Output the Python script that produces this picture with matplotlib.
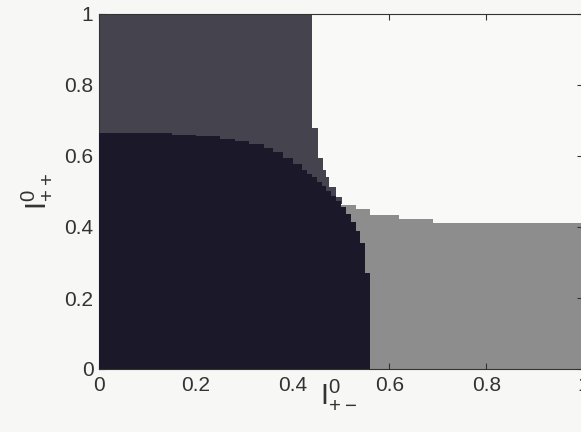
import numpy as np
import matplotlib
matplotlib.use("Agg")
import matplotlib.pyplot as plt

plt.rcParams['font.family'] = ['Liberation Sans', 'DejaVu Sans']

# black region: upper edge, read along x (steps)
black_x = [0.00, 0.05, 0.10, 0.15, 0.20, 0.25, 0.28, 0.31, 0.34, 0.36, 0.38, 0.40,
           0.42, 0.43, 0.44, 0.45, 0.46, 0.47, 0.48, 0.49, 0.50, 0.51, 0.52,
           0.53, 0.54, 0.55, 0.56]
black_y = [0.665, 0.665, 0.664, 0.660, 0.655, 0.648, 0.642, 0.634, 0.622, 0.610, 0.594, 0.578,
           0.560, 0.550, 0.540, 0.528, 0.516, 0.502, 0.488, 0.472, 0.455, 0.437, 0.414,
           0.390, 0.355, 0.270, 0.270]

# dark grey region: right edge, read along y (steps)
dgrey_y = [0.465, 0.485, 0.513, 0.541, 0.560, 0.594, 0.680, 1.000]
dgrey_x = [0.503, 0.490, 0.476, 0.470, 0.462, 0.452, 0.441, 0.441]

# light grey region: upper edge, read along x (steps)
lgrey_x = [0.46, 0.50, 0.53, 0.56, 0.62, 0.69, 1.00]
lgrey_y = [0.470, 0.462, 0.450, 0.434, 0.423, 0.411, 0.411]

ticks = [0, 0.2, 0.4, 0.6, 0.8, 1]
tick_labels = ['0', '0.2', '0.4', '0.6', '0.8', '1']

c_black = '#1b1829'
c_dgrey = '#45434d'
c_lgrey = '#8d8d8d'
c_white = '#f9f9f7'

fig = plt.figure(figsize=(5.81, 4.32), dpi=100, facecolor='#f7f7f5')
ax = fig.add_axes([99/581, 63/432, 484/581, 355/432])
ax.set_facecolor(c_white)

ax.fill_between(lgrey_x, 0, lgrey_y, step='post', color=c_lgrey, lw=0, zorder=1)
ax.fill_betweenx(dgrey_y, 0, dgrey_x, step='post', color=c_dgrey, lw=0, zorder=2)
ax.fill_between(black_x, 0, black_y, step='post', color=c_black, lw=0, zorder=3)

ax.set_xlim(0, 1)
ax.set_ylim(0, 1)
ax.set_xticks(ticks)
ax.set_xticklabels(tick_labels)
ax.set_yticks(ticks)
ax.set_yticklabels(tick_labels)
ax.tick_params(direction='in', top=True, right=True, length=4, width=0.8,
               colors='#333333', labelsize=15, labelcolor='#333333')
ax.tick_params(axis='x', pad=5)
ax.tick_params(axis='y', pad=4)
for s in ax.spines.values():
    s.set_color('#333333')
    s.set_linewidth(0.8)

ax.set_xlabel(r'$\mathregular{I^0_{+-}}$', fontsize=21, color='#333333')
ax.xaxis.set_label_coords(0.494, -0.025)
ax.set_ylabel(r'$\mathregular{I^0_{++}}$', fontsize=21, color='#333333')
ax.yaxis.set_label_coords(-0.095, 0.5)

fig.savefig('out.png', dpi=100, facecolor=fig.get_facecolor())
